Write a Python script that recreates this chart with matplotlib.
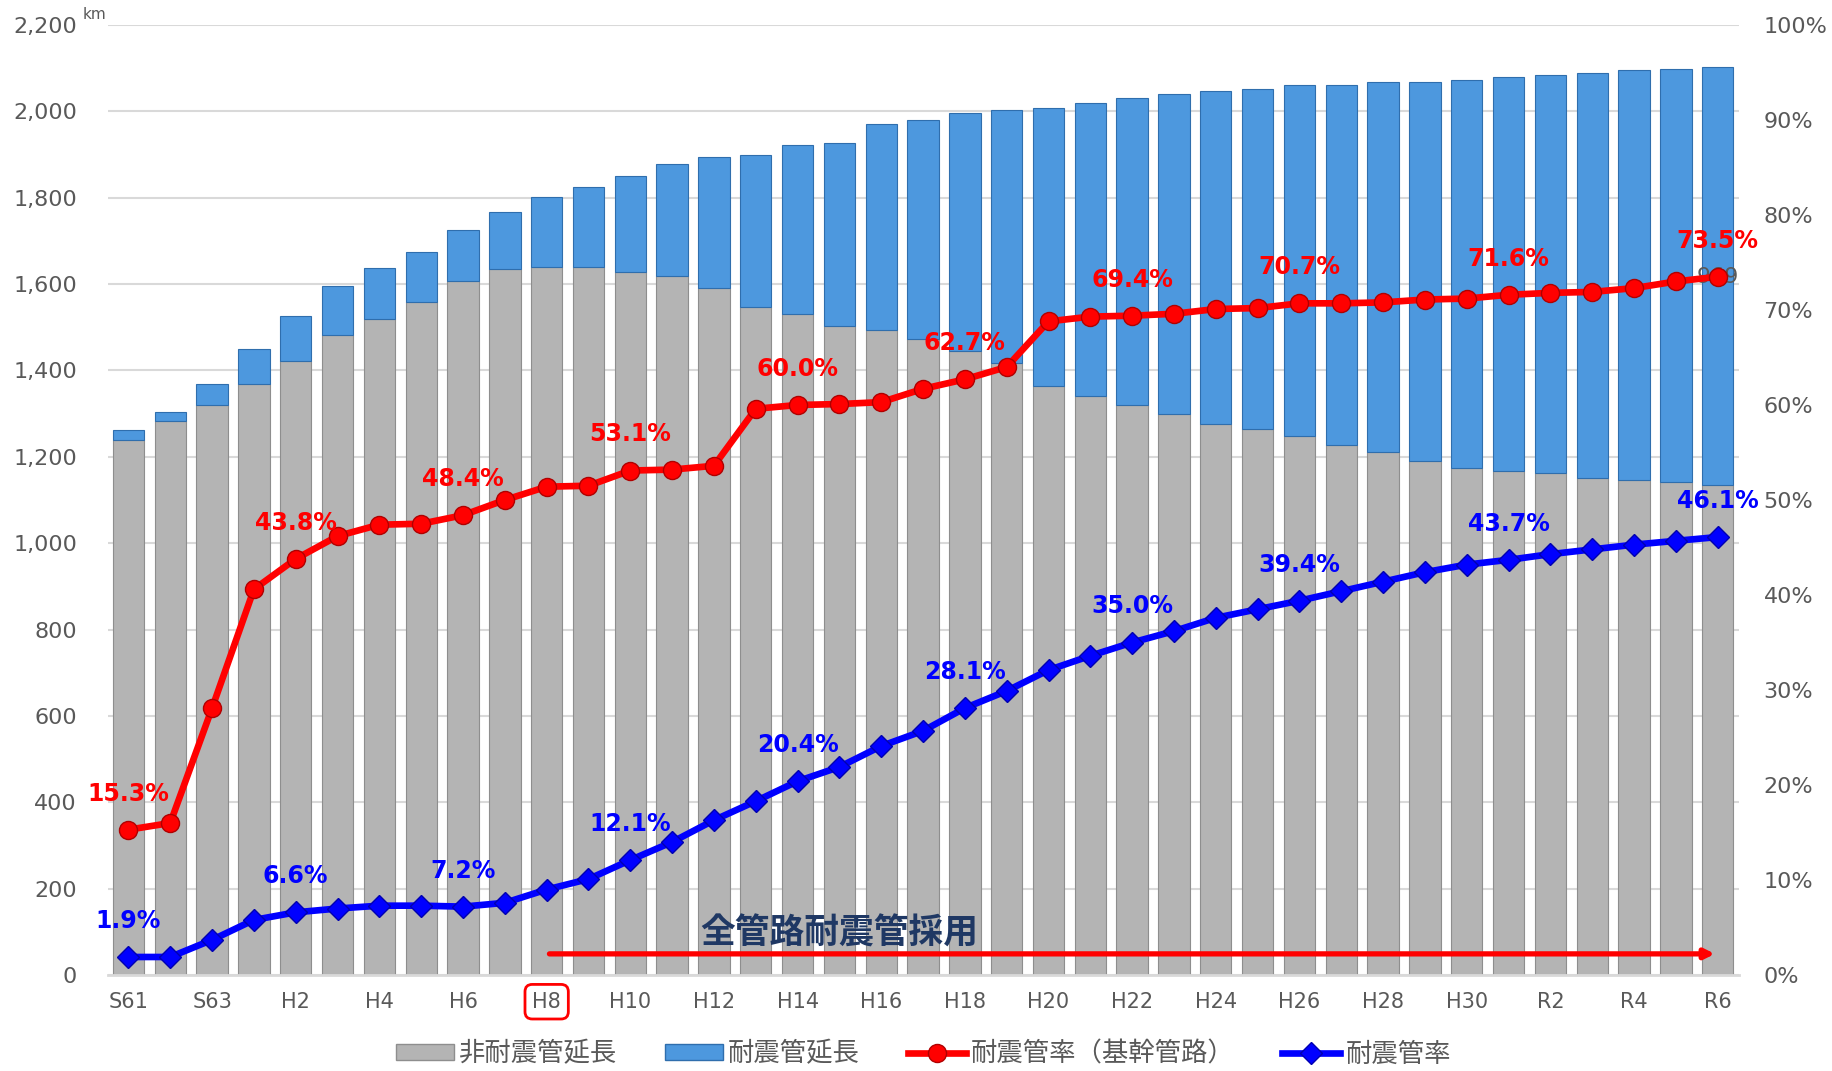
import matplotlib.pyplot as plt
from matplotlib.lines import Line2D
from matplotlib.patches import Patch

years = (
    ["S61", "S62", "S63"]
    + [f"H{n}" for n in range(1, 31)]
    + [f"R{n}" for n in range(1, 7)]
)

total_km = [
    1262, 1303, 1368, 1450, 1525, 1596, 1637, 1675, 1726, 1767,
    1802, 1824, 1851, 1878, 1894, 1900, 1921, 1927, 1970, 1981,
    1997, 2003, 2008, 2019, 2030, 2041, 2046, 2051, 2062, 2062,
    2068, 2068, 2073, 2079, 2084, 2089, 2095, 2097, 2103,
]

non_seismic_km = [
    1240, 1282, 1320, 1368, 1423, 1482, 1520, 1558, 1607, 1634,
    1640, 1640, 1629, 1618, 1591, 1547, 1531, 1504, 1493, 1472,
    1444, 1417, 1363, 1341, 1320, 1298, 1276, 1265, 1249, 1228,
    1211, 1190, 1173, 1168, 1162, 1152, 1146, 1141, 1135,
]

seismic_km = [t - n for t, n in zip(total_km, non_seismic_km)]

# 耐震管率（基幹管路）
trunk_rate = [
    15.3, 16.0, 28.1, 40.6, 43.8, 46.2, 47.4, 47.5, 48.4, 50.0,
    51.4, 51.5, 53.1, 53.2, 53.6, 59.6, 60.0, 60.1, 60.3, 61.7,
    62.7, 64.0, 68.8, 69.3, 69.4, 69.6, 70.1, 70.2, 70.7, 70.7,
    70.8, 71.1, 71.2, 71.6, 71.8, 71.9, 72.3, 73.0, 73.5,
]

# 耐震管率
all_rate = [
    1.9, 1.9, 3.7, 5.8, 6.6, 7.0, 7.3, 7.3, 7.2, 7.6,
    9.0, 10.1, 12.1, 14.0, 16.3, 18.3, 20.4, 21.9, 24.1, 25.7,
    28.1, 29.9, 32.1, 33.6, 35.0, 36.2, 37.6, 38.5, 39.4, 40.4,
    41.4, 42.4, 43.2, 43.7, 44.3, 44.8, 45.3, 45.7, 46.1,
]

label_years = ["S61", "H2", "H6", "H10", "H14", "H18", "H22", "H26", "R1", "R6"]

TICK_COLOR = "#595959"
RED = "#FF0000"
BLUE = "#0000FF"


def main() -> None:
    plt.rcParams["font.family"] = ["DejaVu Sans", "Noto Sans CJK JP"]

    fig = plt.figure(figsize=(18.32, 10.71), dpi=100)
    ax = fig.add_axes([0.0587, 0.0896, 0.8903, 0.8871])
    ax2 = ax.twinx()

    x = list(range(len(years)))

    ax.bar(
        x, non_seismic_km, width=0.75,
        color="#B4B4B4", edgecolor="#8E8E8E", linewidth=0.8, zorder=2,
    )
    ax.bar(
        x, seismic_km, width=0.75, bottom=non_seismic_km,
        color="#4D98DE", edgecolor="#2F6EAD", linewidth=0.8, zorder=2,
    )

    ax.set_xlim(-0.5, len(years) - 0.5)
    ax.set_ylim(0, 2200)
    ax.set_yticks(range(0, 2201, 200))
    ax.set_yticklabels([f"{v:,}" for v in range(0, 2201, 200)])
    ax.grid(axis="y", color="#D9D9D9", linewidth=1.5, zorder=0)
    ax.set_axisbelow(True)

    ax.set_xticks(x[::2])
    ax.set_xticklabels(years[::2])

    for spine in ax.spines.values():
        spine.set_visible(False)
    for spine in ax2.spines.values():
        spine.set_visible(False)
    ax.spines["bottom"].set_visible(True)
    ax.spines["bottom"].set_color("#D9D9D9")
    ax.spines["bottom"].set_linewidth(2)

    ax.tick_params(axis="y", length=0, pad=22, labelsize=16, labelcolor=TICK_COLOR)
    ax.tick_params(axis="x", length=0, pad=12, labelsize=15, labelcolor=TICK_COLOR)

    for lbl in ax.get_xticklabels():
        if lbl.get_text() == "H8":
            lbl.set_bbox(
                dict(boxstyle="round,pad=0.35", ec=RED, fc="none", lw=2)
            )

    ax.text(
        -0.001, 1.003, "km", transform=ax.transAxes, ha="right", va="bottom",
        fontsize=11, color=TICK_COLOR,
    )

    # arrow + note
    i8 = years.index("H8")
    ax.annotate(
        "", xy=(len(years) - 1, 49), xytext=(i8, 49),
        arrowprops=dict(arrowstyle="-|>", color=RED, lw=3.8, mutation_scale=14),
        zorder=4,
    )
    ax.text(
        years.index("H15"), 98, "全管路耐震管採用",
        ha="center", va="center", fontsize=25, fontweight="bold",
        color="#1F3864", family=["Noto Sans CJK JP"], zorder=4,
    )

    ax2.set_ylim(0, 100)
    ax2.set_yticks(range(0, 101, 10))
    ax2.set_yticklabels([f"{v}%" for v in range(0, 101, 10)])
    ax2.tick_params(axis="y", length=0, pad=18, labelsize=16, labelcolor=TICK_COLOR)

    ax2.text(
        len(years) - 1, trunk_rate[-1], "969", ha="center", va="center",
        fontsize=16, color=TICK_COLOR, zorder=1,
    )

    ax2.plot(
        x, trunk_rate, color=RED, linewidth=4.8, marker="o", markersize=13,
        markerfacecolor=RED, markeredgecolor="#B00000", markeredgewidth=1,
        zorder=3,
    )
    ax2.plot(
        x, all_rate, color=BLUE, linewidth=4.8, marker="D", markersize=11,
        markerfacecolor=BLUE, markeredgecolor="#0000B0", markeredgewidth=1,
        zorder=3,
    )

    for yr in label_years:
        i = years.index(yr)
        ax2.annotate(
            f"{trunk_rate[i]:.1f}%", (i, trunk_rate[i]), xytext=(0, 26),
            textcoords="offset points", ha="center", va="center",
            fontsize=17, fontweight="bold", color=RED, zorder=5,
        )
        ax2.annotate(
            f"{all_rate[i]:.1f}%", (i, all_rate[i]), xytext=(0, 26),
            textcoords="offset points", ha="center", va="center",
            fontsize=17, fontweight="bold", color=BLUE, zorder=5,
        )

    handles = [
        Patch(facecolor="#B4B4B4", edgecolor="#8E8E8E"),
        Patch(facecolor="#4D98DE", edgecolor="#2F6EAD"),
        Line2D([], [], color=RED, lw=4.8, marker="o", markersize=13,
               markeredgecolor="#B00000"),
        Line2D([], [], color=BLUE, lw=4.8, marker="D", markersize=11,
               markeredgecolor="#0000B0"),
    ]
    labels = ["非耐震管延長", "耐震管延長", "耐震管率（基幹管路）", "耐震管率"]
    fig.legend(
        handles, labels, loc="center", bbox_to_anchor=(0.504, 0.016),
        ncol=4, frameon=False, handlelength=2.2, handleheight=0.5,
        columnspacing=1.8, handletextpad=0.2,
        prop={"family": ["Noto Sans CJK JP"], "size": 19},
        labelcolor=TICK_COLOR,
    )

    fig.savefig("out.png", dpi=100)


if __name__ == "__main__":
    main()
